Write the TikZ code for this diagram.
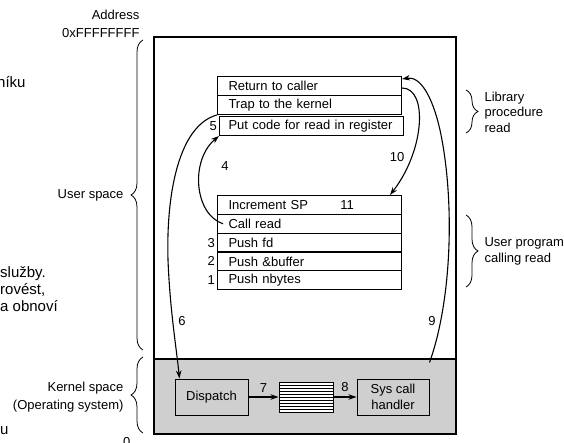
\documentclass[tikz,border=0pt]{standalone}
\usepackage{fontspec}
\setmainfont{Liberation Sans}
\usetikzlibrary{arrows.meta,decorations.pathreplacing}

\begin{document}
\begin{tikzpicture}[x=1pt,y=-1pt,
    font=\fontsize{13}{15.5}\selectfont,
    >={Stealth[length=8pt,width=5.5pt]},
    stackrow/.style={draw,line width=1pt,anchor=north west,minimum height=19pt,
      text width=168pt,inner xsep=8pt,inner ysep=0pt,align=left},
    kbox/.style={draw,line width=1pt,minimum height=36pt,align=center,inner sep=0pt},
    num/.style={anchor=east,inner sep=2pt},
    call/.style={->,line width=1.1pt},
    brc/.style={decorate,decoration={brace,amplitude=12pt},line width=0.8pt},
    frag/.style={font=\fontsize{15}{17}\selectfont,align=left,inner sep=0pt,anchor=west}]
  \useasboundingbox (0,0) rectangle (564,443);
  % address space
  \fill[black!19] (154,359) rectangle (456,434);
  \draw[line width=1.3pt] (154,37) rectangle (456,434);
  \draw[line width=1.3pt] (154,359) -- (456,359);
  % library procedure read
  \node[stackrow] (ret) at (217,76) {\hspace{3pt}Return to caller};
  \node[stackrow] (trap) at (217,95) {\hspace{3pt}Trap to the kernel};
  \node[stackrow] (put) at (219,116) {\hspace{1pt}Put code for read in register};
  \node[num] (n5) at (put.west) {5};
  % user program calling read
  \node[stackrow] (inc) at (217,195) {\hspace{3pt}Increment SP};
  \foreach \txt/\nm [count=\i] in {Call read/cread,Push fd/pfd,Push \&buffer/pbuf,Push nbytes/pnb}
    \node[stackrow] (\nm) at (217,{195+18.8*\i}) {\hspace{3pt}\txt};
  \foreach \nm/\k in {pfd/3,pbuf/2,pnb/1}
    \node[num] (n\k) at (\nm.west) {\k};
  \node (n11) at ([xshift=130pt]inc.west) {11};
  % kernel
  \node[kbox,minimum width=73pt] (disp) at (211.5,397) {Dispatch};
  \node[draw,line width=1pt,fill=white,minimum width=54pt,minimum height=30pt] (tbl) at (306,397) {};
  \foreach \k in {1,...,9}
    \draw[line width=0.7pt] (279,{382+3*\k}) -- (333,{382+3*\k});
  \node[kbox,minimum width=72pt] (hdl) at (393,397) {Sys call\\handler};
  \draw[call] (disp) -- node[above=1pt] (n7) {7} (tbl);
  \draw[call] (tbl) -- node[above=1pt] (n8) {8} (hdl);
  % steps 4, 6, 9, 10
  \draw[call] ([xshift=6pt]cread.west) .. controls (194,214) and (190,160) .. (put.south west);
  \node (n4) at (225,166) {4};
  \draw[call] (trap.south west) .. controls (180,125) and (166,190) .. (168,260)
    .. controls (170,310) and (176,345) .. ([xshift=5pt]disp.north west);
  \node (n6) at (182,321) {6};
  \draw[call] ([yshift=16pt]hdl.north east) .. controls (452,300) and (455,200) .. (440,130)
    .. controls (432,95) and (420,76) .. ([yshift=7pt]ret.east);
  \node (n9) at (432,321) {9};
  \draw[call] ([yshift=-2pt]ret.east) .. controls (428,88) and (425,150) .. ([xshift=-12pt]inc.north east);
  \node (n10) at (397,157) {10};
  % braces and labels
  \draw[brc] (143,350) -- (143,40);
  \draw[brc] (143,433) -- (143,357);
  \draw[brc] (466,90) -- (466,133);
  \draw[brc] (466,215) -- (466,287);
  \node[anchor=east] (us) at (127,195) {User space};
  \node[anchor=east,align=right,font=\fontsize{13}{18}\selectfont] (ks) at (127,397) {Kernel space\\(Operating system)};
  \node[anchor=west,align=left] (lib) at (481,112) {Library\\procedure\\read};
  \node[anchor=west,align=left,font=\fontsize{13}{16}\selectfont] (upg) at (481,251) {User program\\calling read};
  \node[anchor=east,align=right,font=\fontsize{13}{18}\selectfont] (addr) at (143,24) {Address\\0xFFFFFFFF};
  \node[anchor=east] (zero) at (134,442) {0};
  % cut text at the left edge
  \node[frag] (f1) at (-3,82) {níku};
  \node[frag] (f2) at (0,289) {služby.\\rovést,\\a obnoví};
  \node[frag] (f3) at (0,431) {u};
\end{tikzpicture}
\end{document}
